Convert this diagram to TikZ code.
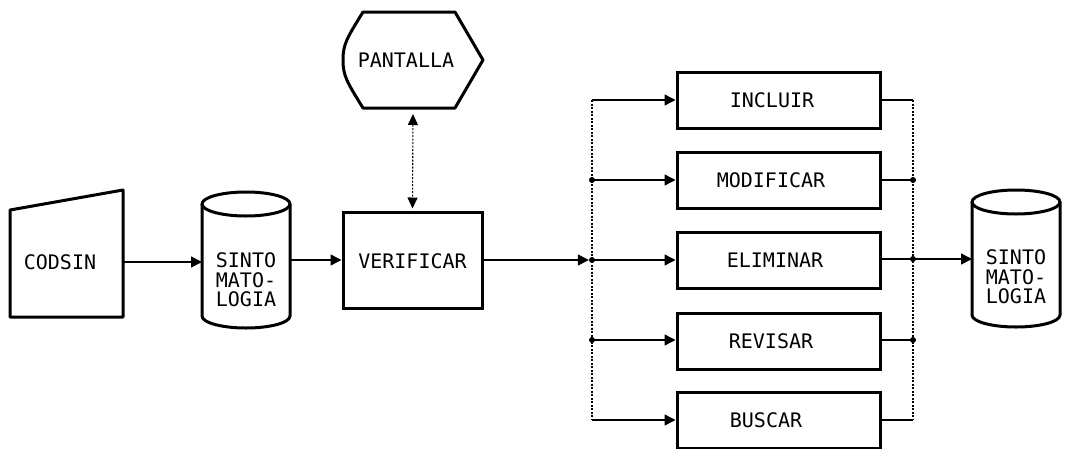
\documentclass[tikz,border=0pt]{standalone}
\usepackage{fontspec}
\setmonofont{DejaVu Sans Mono}
\usetikzlibrary{arrows.meta,calc}
\begin{document}
\begin{tikzpicture}[x=1pt,y=-1pt,
  procbox/.style={draw, line width=3pt, minimum width=203pt, minimum height=56pt, inner sep=0pt},
  lbl/.style={font=\ttfamily\fontsize{20}{19.5}\selectfont, inner sep=0pt, align=center},
  area/.style={inner sep=0pt, outer sep=0pt},
  conn/.style={line width=1.5pt},
  arr/.style={-{Triangle[length=11pt,width=11pt]}},
  bus/.style={line width=1.1pt, dash pattern=on 2pt off 1.5pt},
  shp/.style={line width=3pt, line join=round},
  dotj/.style={circle, fill, inner sep=0pt, minimum size=6pt}]
\useasboundingbox (0,0) rectangle (1069,448);

% ---- CODSIN (manual input)
\node[area, minimum width=113pt, minimum height=127pt] (codsin) at (66.5,253.5) {};
\draw[shp] (10,210) -- (123,190) -- (123,317) -- (10,317) -- cycle;
\node[lbl] (codsintxt) at (60,262) {CODSIN};

% ---- SINTOMATOLOGIA 1 (cylinder)
\node[area, minimum width=88pt, minimum height=136pt] (cyl1) at (246,260) {};
\draw[shp] (202,204) -- (202,316) arc[start angle=180, end angle=0, x radius=44, y radius=12] -- (290,204);
\draw[shp] (246,204) ellipse[x radius=44, y radius=12];
\node[lbl] (cyl1txt) at (246,280) {SINTO\\MATO-\\LOGIA};

% ---- VERIFICAR
\node[procbox, minimum width=139pt, minimum height=96pt] (verif) at (412.5,260) {};
\node[lbl] (veriftxt) at (412.5,261) {VERIFICAR};

% ---- PANTALLA (display)
\node[area, minimum width=140pt, minimum height=96pt] (pant) at (413,60) {};
\draw[shp] (363,12) -- (455,12) -- (483,60) -- (455,108) -- (363,108)
  .. controls (347,82) and (343,76) .. (343,60)
  .. controls (343,44) and (347,38) .. (363,12) -- cycle;
\node[lbl] (panttxt) at (406,60) {PANTALLA};

% ---- process boxes
\node[procbox] (incl)  at (778.5,100) {};
\node[procbox] (modif) at (778.5,180) {};
\node[procbox] (elim)  at (778.5,260.5) {};
\node[procbox] (revis) at (778.5,341) {};
\node[procbox] (busc)  at (778.5,420) {};
\node[lbl] (incltxt)  at (772,100) {INCLUIR};
\node[lbl] (modiftxt) at (771,180) {MODIFICAR};
\node[lbl] (elimtxt)  at (775,260.5) {ELIMINAR};
\node[lbl] (revistxt) at (771,341) {REVISAR};
\node[lbl] (busctxt)  at (766,420) {BUSCAR};

% ---- SINTOMATOLOGIA 2 (cylinder)
\node[area, minimum width=88pt, minimum height=137pt] (cyl2) at (1016,258.5) {};
\draw[shp] (972,202) -- (972,315) arc[start angle=180, end angle=0, x radius=44, y radius=12] -- (1060,202);
\draw[shp] (1016,202) ellipse[x radius=44, y radius=12];
\node[lbl] (cyl2txt) at (1016,277) {SINTO\\MATO-\\LOGIA};

% ---- buses
\coordinate (bL1) at (592,100);
\coordinate (bL5) at (592,420);
\coordinate (bR1) at (913,100);
\coordinate (bR5) at (913,420);
\draw[bus] (bL1) -- (bL5);
\draw[bus] (bR1) -- (bR5);
\node[dotj] (jL2) at (592,180) {};
\node[dotj] (jL3) at (592,260) {};
\node[dotj] (jL4) at (592,340) {};
\node[dotj] (jR2) at (913,180) {};
\node[dotj] (jR3) at (913,259) {};
\node[dotj] (jR4) at (913,340) {};

% ---- connectors
\draw[conn, arr] (codsin.east |- codsintxt) -- (cyl1.west |- codsintxt);
\draw[conn, arr] (cyl1.east |- verif.west) -- (verif.west);
\draw[bus, {Triangle[length=11pt,width=10pt]}-{Triangle[length=11pt,width=10pt]}, shorten <=6pt, shorten >=2pt] (pant.south) -- (verif.north);
\draw[conn, arr] (verif.east) -- (jL3.west);

\draw[conn, arr] (bL1) -- (incl.west);
\draw[conn, arr] (jL2.center) -- (modif.west |- jL2);
\draw[conn, arr] (jL3.center) -- (elim.west |- jL3);
\draw[conn, arr] (jL4.center) -- (revis.west |- jL4);
\draw[conn, arr] (bL5) -- (busc.west);

\draw[conn] (incl.east) -- (bR1);
\draw[conn] (modif.east |- jR2) -- (jR2.center);
\draw[conn] (elim.east |- jR3) -- (jR3.center);
\draw[conn] (revis.east |- jR4) -- (jR4.center);
\draw[conn] (busc.east) -- (bR5);
\draw[conn, arr] (jR3.center) -- (cyl2.west |- jR3);
\end{tikzpicture}
\end{document}
